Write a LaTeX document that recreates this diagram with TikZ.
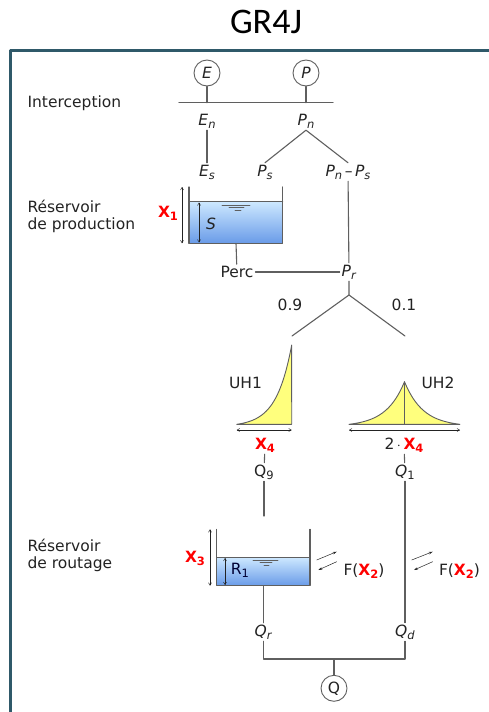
\documentclass[tikz,border=0pt]{standalone}
\usepackage{fontspec}
\setmainfont{DejaVu Sans}
\newfontfamily\titlefont{Carlito}
\usetikzlibrary{arrows.meta}
\definecolor{framecol}{RGB}{47,89,105}
\definecolor{linecol}{RGB}{95,95,95}
\definecolor{txtcol}{RGB}{35,35,35}
\definecolor{watertop}{RGB}{205,232,255}
\definecolor{waterbot}{RGB}{105,155,232}
\definecolor{uhfill}{RGB}{255,255,125}
\newcommand{\subtxt}[1]{\raisebox{-0.35ex}{\fontsize{11.5}{12}\selectfont #1}}
\newcommand{\xpar}[1]{\textcolor{red}{\textbf{X}\subtxt{\textbf{#1}}}}
\newcommand{\vsub}[2]{\textit{#1}\subtxt{\textit{#2}}}
\tikzset{
  lbl/.style={inner sep=1.5pt,text=txtcol,font=\fontsize{15.5}{17}\selectfont},
  inbox/.style={circle,draw=linecol,line width=0.9pt,minimum size=26pt,inner sep=0pt,text=txtcol,font=\fontsize{15.5}{17}\selectfont},
  dim/.style={{Straight Barb[length=2.5pt,width=3pt]}-{Straight Barb[length=2.5pt,width=3pt]},line width=0.5pt,draw=txtcol},
  xchg/.style={-{Stealth[length=4pt,width=2.5pt]},line width=0.5pt,draw=txtcol},
  wall/.style={line width=1.1pt,draw=linecol}
}
\begin{document}
\begin{tikzpicture}[x=1pt,y=-1pt,line cap=round,line join=round,line width=1.1pt,draw=linecol]
\useasboundingbox (0,0) rectangle (489,712);
\draw[framecol,line width=2.5pt,line cap=butt] (489,50.5) -- (10.5,50.5) -- (10.5,712);
\node[inner sep=0pt,font=\titlefont\fontsize{36}{40}\selectfont] (title) at (266,22) {GR4J};

\node[lbl,anchor=west] (interc) at (25.5,103) {Interception};
\node[lbl,anchor=west,align=left] (prodlbl) at (25.5,216) {Réservoir\\de production};
\node[lbl,anchor=west,align=left] (routlbl) at (25.5,555) {Réservoir\\de routage};

\node[inbox] (E) at (207,73) {\textit{E}};
\node[inbox] (P) at (306,73) {\textit{P}};
\coordinate (iL) at (179,102.7);
\coordinate (iR) at (333,102.7);
\draw (iL) -- (iR);
\draw (E) -- (E |- iL);
\draw (P) -- (P |- iL);

\node[lbl] (En) at (207,121) {\vsub{E}{n}};
\node[lbl] (Pn) at (306,121) {\vsub{P}{n}};
\node[lbl] (Es) at (207,172) {\vsub{E}{s}};
\node[lbl] (Ps) at (265,172) {\vsub{P}{s}};
\node[lbl] (PnPs) at (348,172) {\vsub{P}{n}\,\textendash\,\vsub{P}{s}};
\draw (En) -- (Es);
\draw (Pn.south) -- (Ps.north);
\draw (Pn.south) -- (PnPs.north);

\shade[top color=watertop,bottom color=waterbot] (189,201.7) rectangle (282.7,243.3);
\draw[wall] (189,187) |- (282.7,243.3) -- (282.7,187);
\draw[wall] (189,201.7) -- (282.7,201.7);
\draw[line width=0.8pt] (222,205) -- (250,205) (229,207.7) -- (244,207.7) (235,210.3) -- (241,210.3);
\draw[dim] (182,187) -- (182,243.3);
\draw[dim] (199,202.5) -- (199,242.5);
\node[lbl] (S) at (211,224) {\textit{S}};
\node[lbl] (X1) at (168,213) {\xpar{1}};

\node[lbl] (Perc) at (237,272) {Perc};
\node[lbl] (Pr) at (349,272) {\vsub{P}{r}};
\draw (236,243.3) -- (Perc);
\draw (Perc) -- (Pr);
\draw (PnPs) -- (Pr);
\coordinate (split) at (349,295);
\coordinate (b1) at (292,336);
\coordinate (b2) at (405,336);
\draw (Pr) -- (split) -- (b1);
\draw (split) -- (b2);
\node[lbl] (w1) at (290,305) {0.9};
\node[lbl] (w2) at (404,305) {0.1};

\fill[uhfill] plot[domain=0:1,samples=40] ({236.7+55*\x},{424.3-79.3*(exp(3.6*\x)-1)/(exp(3.6)-1)}) -- (291.7,424.3) -- cycle;
\draw[line width=0.9pt] plot[domain=0:1,samples=40] ({236.7+55*\x},{424.3-79.3*(exp(3.6*\x)-1)/(exp(3.6)-1)}) -- (291.7,424.3) -- cycle;
\fill[uhfill] plot[domain=-1:1,samples=81] ({404.5+55.5*\x},{424.3-42.6*(exp(-3*abs(\x))-exp(-3))/(1-exp(-3))}) -- cycle;
\draw[line width=0.9pt] plot[domain=-1:1,samples=81] ({404.5+55.5*\x},{424.3-42.6*(exp(-3*abs(\x))-exp(-3))/(1-exp(-3))}) -- cycle;
\draw[line width=0.9pt] (404.5,381.7) -- (404.5,424.3);
\node[lbl] (UH1) at (245.5,383) {UH1};
\node[lbl] (UH2) at (438,383) {UH2};
\draw[dim] (236.7,430) -- (291.7,430);
\draw[dim] (349,430) -- (460,430);
\node[lbl] (X4a) at (265,445) {\xpar{4}};
\node[lbl] (X4b) at (404,445) {2\,$\cdot$\,\xpar{4}};

\node[lbl] (Q9) at (264,472) {Q\subtxt{9}};
\node[lbl] (Q1) at (405,472) {\textit{Q}\subtxt{1}};
\draw (X4a) -- (Q9);
\draw (X4b) -- (Q1);
\coordinate (inflow) at (264,516);
\draw (Q9) -- (inflow);

\shade[top color=watertop,bottom color=waterbot] (216.7,557.3) rectangle (310,585.7);
\draw[wall] (216.7,529.3) |- (310,585.7) -- (310,529.3);
\draw[wall] (216.7,557.3) -- (310,557.3);
\draw[line width=0.8pt] (253,560) -- (278,560) (260,562.8) -- (272,562.8) (264,565.5) -- (269,565.5);
\draw[dim] (210,529.3) -- (210,585.7);
\draw[dim] (225,558) -- (225,585);
\node[lbl,text=black!80!blue] (R1) at (240,570) {R\subtxt{1}};
\node[lbl] (X3) at (195,558) {\xpar{3}};

\node[lbl] (Qr) at (263.5,632) {\vsub{Q}{r}};
\node[lbl] (Qd) at (405,632) {\vsub{Q}{d}};
\draw (263.5,585.7) -- (Qr);
\draw (Q1) -- (Qd);
\node[inbox] (Q) at (334,688.3) {Q};
\coordinate (join) at (334,659);
\draw (Qr) |- (join) -| (Qd);
\draw (join) -- (Q);

\draw[xchg] (316.7,560) -- (336.7,551.7);
\draw[xchg] (336.7,561.7) -- (318.3,570);
\node[lbl] (F1) at (364,571) {F(\xpar{2})};
\draw[xchg] (411.7,560) -- (432.7,551.7);
\draw[xchg] (432.7,561.7) -- (414,570);
\node[lbl] (F2) at (459.5,571) {F(\xpar{2})};
\end{tikzpicture}
\end{document}
